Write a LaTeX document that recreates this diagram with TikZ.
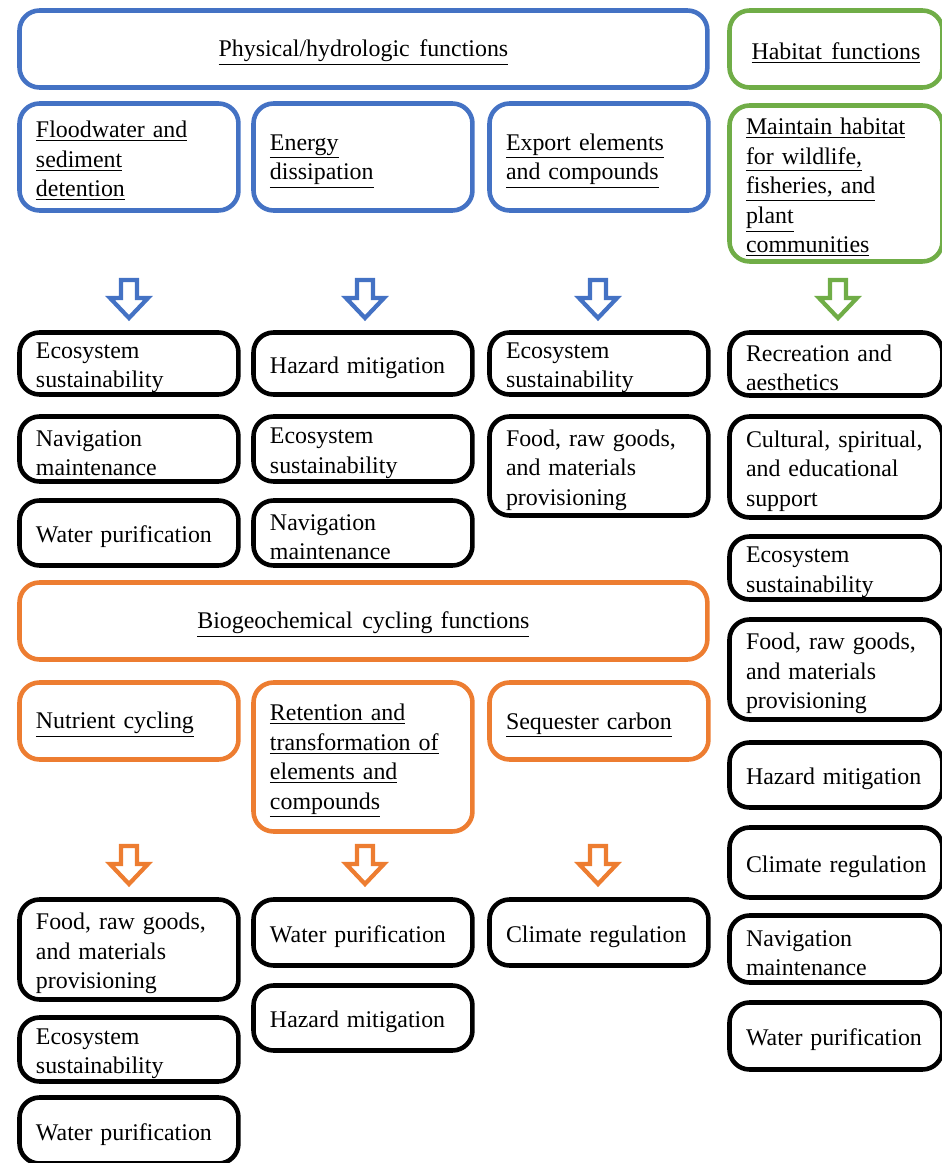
\documentclass[tikz,border=0pt]{standalone}
\usepackage{fontspec}
\setmainfont{Liberation Serif}
\definecolor{hydroblue}{RGB}{68,114,196}
\definecolor{habgreen}{RGB}{112,173,71}
\definecolor{biorange}{RGB}{237,125,49}
\newcommand{\uln}[1]{\underline{#1}}
\newcommand{\gap}{\hspace{0.4em}}

\begin{document}
\begin{tikzpicture}[x=0.02cm, y=-0.02cm,
  every node/.style={font=\fontsize{13.6}{16.8}\selectfont, anchor=north west, inner ysep=0pt, outer sep=0pt},
  box/.style={draw, line width=2.6pt, rounded corners=0.4cm, fill=white, align=left, inner xsep=0.33cm, text width=3.72cm,
    execute at begin node={\hyphenpenalty=10000\rule{0pt}{14pt}}},
  narrow/.style={text width=3.6cm},
  head/.style={box, align=center, text width=13.1cm},
  hollowdown/.pic={\draw[line width=2.4pt, line join=miter, fill=white] (-8,0) -- (8,0) -- (8,18) -- (19,18) -- (0,38) -- (-19,18) -- (-8,18) -- cycle;}]
\useasboundingbox (0,0) rectangle (942,1163);
\clip (0,0) rectangle (942,1163);
% function headers
\node[head, draw=hydroblue, minimum height=1.54cm] (phys) at (19.5,10.5) {\uln{Physical/hydrologic\gap functions}};
\node[box, narrow, align=center, draw=habgreen, minimum height=1.54cm] (hab) at (729.5,10.5) {\uln{Habitat\gap functions}};
\node[box, draw=hydroblue, minimum height=2.14cm] (flood) at (19.5,103.5) {\uln{Floodwater and}\\\uln{sediment}\\\uln{detention}};
\node[box, draw=hydroblue, minimum height=2.14cm] (energy) at (253.5,103.5) {\uln{Energy}\\\uln{dissipation}};
\node[box, draw=hydroblue, minimum height=2.14cm] (export) at (489.5,103.5) {\uln{Export elements}\\\uln{and compounds}};
\node[box, narrow, draw=habgreen, minimum height=3.12cm] (habitat) at (729.5,105.5) {\uln{Maintain habitat}\\\uln{for wildlife,}\\\uln{fisheries, and}\\\uln{plant}\\\uln{communities}};
\pic[hydroblue] (arFlood) at (129,280) {hollowdown};
\pic[hydroblue] (arEnergy) at (365,280) {hollowdown};
\pic[hydroblue] (arExport) at (598,280) {hollowdown};
\pic[habgreen] (arHabitat) at (838,280) {hollowdown};
% services
\node[box, minimum height=1.24cm] (flEco) at (19.5,332.5) {Ecosystem\\sustainability};
\node[box, minimum height=1.30cm] (flNav) at (19.5,416.5) {Navigation\\maintenance};
\node[box, minimum height=1.30cm] (flWat) at (19.5,500.5) {Water purification};
\node[box, minimum height=1.24cm] (enHaz) at (253.5,332.5) {Hazard mitigation};
\node[box, minimum height=1.30cm] (enEco) at (253.5,416.5) {Ecosystem\\sustainability};
\node[box, minimum height=1.30cm] (enNav) at (253.5,500.5) {Navigation\\maintenance};
\node[box, minimum height=1.24cm] (exEco) at (489.5,332.5) {Ecosystem\\sustainability};
\node[box, minimum height=1.98cm] (exFood) at (489.5,416.5) {Food, raw goods,\\and materials\\provisioning};
\node[box, narrow, minimum height=1.26cm] (haRec) at (729.5,332.5) {Recreation and\\aesthetics};
\node[box, narrow, minimum height=2.02cm] (haCul) at (729.5,416.5) {Cultural, spiritual,\\and educational\\support};
\node[box, narrow, minimum height=1.26cm] (haEco) at (729.5,536.5) {Ecosystem\\sustainability};
\node[box, narrow, minimum height=2.00cm] (haFood) at (729.5,619.5) {Food, raw goods,\\and materials\\provisioning};
\node[box, narrow, minimum height=1.30cm] (haHaz) at (729.5,742.5) {Hazard mitigation};
\node[box, narrow, minimum height=1.40cm] (haCli) at (729.5,827.5) {\mbox{Climate regulation}};
\node[box, narrow, minimum height=1.34cm] (haNav) at (729.5,915.5) {Navigation\\maintenance};
\node[box, narrow, minimum height=1.34cm] (haWat) at (729.5,1002.5) {Water purification};
% biogeochemical
\node[head, draw=biorange, minimum height=1.54cm] (bio) at (19.5,582.5) {\uln{Biogeochemical\gap cycling functions}};
\node[box, draw=biorange, minimum height=1.54cm] (nut) at (19.5,682.5) {\uln{Nutrient cycling}};
\node[box, draw=biorange, minimum height=2.98cm] (ret) at (253.5,682.5) {\uln{Retention and}\\\uln{transformation of}\\\uln{elements and}\\\uln{compounds}};
\node[box, draw=biorange, minimum height=1.54cm] (seq) at (489.5,682.5) {\uln{Sequester carbon}};
\pic[biorange] (arNut) at (129,846) {hollowdown};
\pic[biorange] (arRet) at (365,846) {hollowdown};
\pic[biorange] (arSeq) at (598,846) {hollowdown};
\node[box, minimum height=2.00cm] (nuFood) at (19.5,899.5) {Food, raw goods,\\and materials\\provisioning};
\node[box, minimum height=1.28cm] (nuEco) at (19.5,1017.5) {Ecosystem\\sustainability};
\node[box, minimum height=1.32cm] (nuWat) at (19.5,1097.5) {Water purification};
\node[box, minimum height=1.32cm] (reWat) at (253.5,899.5) {Water purification};
\node[box, minimum height=1.30cm] (reHaz) at (253.5,985.5) {Hazard mitigation};
\node[box, minimum height=1.32cm] (seCli) at (489.5,899.5) {Climate regulation};
\end{tikzpicture}
\end{document}
